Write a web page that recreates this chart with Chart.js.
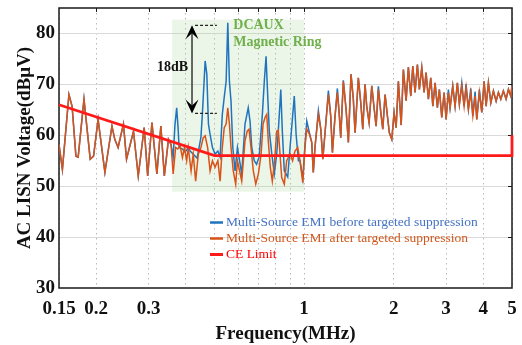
<!DOCTYPE html>
<html>
<head>
<meta charset="utf-8">
<script src="https://cdn.jsdelivr.net/npm/chart.js@4.4.0/dist/chart.umd.min.js"></script>
<style>
  html, body { margin: 0; padding: 0; background: #fff; }
  #emiChart { display: block; }
</style>
</head>
<body>
<canvas id="emiChart" width="522" height="345"></canvas>
<script>
// below the ring region both measurements sit on top of each other
const freqLow = [0.150, 0.154, 0.162, 0.166, 0.171, 0.174, 0.182, 0.191, 0.196, 0.203, 0.214, 0.226, 0.231, 0.237, 0.247, 0.253, 0.267, 0.277, 0.290, 0.298, 0.308, 0.320, 0.330, 0.339, 0.350];
const emiLow = [58.2, 53.3, 68.0, 65.7, 55.9, 55.7, 67.1, 55.3, 55.9, 63.1, 52.7, 61.8, 59.2, 57.6, 62.2, 55.3, 60.8, 52.0, 61.5, 52.0, 62.5, 52.4, 61.8, 52.0, 59.2];

// DCAUX magnetic ring region, before suppression
const freqRingBefore = [0.357, 0.363, 0.368, 0.373, 0.377, 0.380, 0.390, 0.398, 0.408, 0.414, 0.424, 0.437, 0.450, 0.455, 0.465, 0.471, 0.477, 0.483, 0.492, 0.502, 0.513, 0.522, 0.531, 0.539, 0.547, 0.554, 0.561, 0.568, 0.576, 0.586, 0.597, 0.607, 0.617, 0.633, 0.649, 0.658, 0.667, 0.680, 0.692, 0.706, 0.724, 0.735, 0.745, 0.755, 0.764, 0.779, 0.794, 0.809, 0.819, 0.835, 0.845, 0.858, 0.881, 0.897, 0.927, 0.940, 0.957, 0.969, 0.990, 1.008];
const emiRingBefore = [58.2, 55.7, 62.0, 65.4, 61.5, 57.6, 57.3, 56.7, 57.6, 56.9, 56.3, 55.5, 59.6, 64.1, 74.6, 72.0, 62.2, 60.2, 57.6, 56.3, 56.9, 55.7, 64.1, 67.5, 70.6, 82.1, 70.6, 66.7, 57.6, 53.0, 57.6, 55.0, 52.4, 62.2, 65.4, 62.8, 57.6, 55.0, 54.3, 55.7, 64.1, 70.6, 75.5, 67.4, 60.8, 56.3, 52.4, 56.3, 60.8, 69.0, 60.8, 53.0, 51.8, 57.6, 67.7, 60.2, 55.0, 55.0, 51.5, 58.5];

// same region, after suppression
const freqRingAfter = [0.357, 0.363, 0.370, 0.376, 0.383, 0.390, 0.396, 0.403, 0.408, 0.417, 0.424, 0.432, 0.441, 0.450, 0.458, 0.465, 0.474, 0.483, 0.492, 0.502, 0.513, 0.522, 0.531, 0.539, 0.547, 0.554, 0.561, 0.568, 0.578, 0.589, 0.597, 0.607, 0.617, 0.633, 0.644, 0.653, 0.663, 0.675, 0.688, 0.702, 0.717, 0.728, 0.739, 0.749, 0.758, 0.770, 0.782, 0.796, 0.809, 0.819, 0.830, 0.841, 0.858, 0.874, 0.897, 0.915, 0.932, 0.952, 0.969, 0.990, 1.008];
const emiRingAfter = [58.2, 52.4, 57.6, 57.3, 57.9, 55.6, 57.6, 55.0, 57.6, 53.0, 56.3, 51.0, 56.3, 57.6, 59.5, 59.9, 57.6, 53.0, 55.0, 53.7, 55.0, 51.0, 57.6, 61.5, 62.2, 65.4, 62.2, 57.6, 53.0, 50.4, 55.0, 53.0, 51.0, 58.9, 60.8, 61.2, 57.6, 53.0, 50.4, 52.4, 56.3, 62.2, 63.5, 64.1, 58.9, 53.7, 51.0, 55.0, 60.8, 61.0, 56.3, 51.7, 50.4, 55.0, 56.3, 55.0, 56.9, 57.6, 55.0, 50.7, 57.9];

// above 1 MHz
const freqHigh = [1.021, 1.042, 1.061, 1.074, 1.089, 1.117, 1.138, 1.156, 1.176, 1.207, 1.229, 1.245, 1.271, 1.294, 1.314, 1.328, 1.355, 1.384, 1.409, 1.438, 1.464, 1.484, 1.522, 1.551, 1.575, 1.603, 1.624, 1.654, 1.689, 1.719, 1.746, 1.777, 1.811, 1.839, 1.872, 1.906, 1.935, 1.972, 2.007, 2.039, 2.075, 2.12, 2.157, 2.203, 2.242, 2.284, 2.320, 2.361, 2.404, 2.441, 2.487, 2.532, 2.571, 2.618, 2.666, 2.709, 2.757, 2.806, 2.850, 2.903, 2.956, 3.002, 3.056, 3.096, 3.161, 3.218, 3.276, 3.327, 3.390, 3.451, 3.504, 3.568, 3.634, 3.692, 3.758, 3.807, 3.884, 3.957, 4.029, 4.092, 4.165, 4.244, 4.330, 4.421, 4.501, 4.585, 4.678, 4.776, 4.863, 4.953, 5.0];
const emiHighBefore = [62.8, 60.5, 58.6, 52.7, 57.9, 64.8, 61.2, 55.3, 60.5, 68.8, 63.8, 56.6, 63.8, 69.2, 63.8, 59.5, 70.8, 65.1, 58.6, 72.0, 67.1, 60.5, 71.3, 66.4, 61.2, 70.0, 65.7, 62.5, 69.7, 65.4, 61.8, 69.6, 64.5, 61.2, 68.0, 63.8, 60.5, 59.2, 64.5, 61.5, 70.6, 62.0, 72.9, 66.8, 73.4, 67.7, 73.6, 68.4, 73.9, 69.0, 73.3, 68.4, 72.3, 67.1, 71.3, 65.7, 70.3, 65.4, 69.0, 63.5, 68.4, 63.1, 69.0, 65.4, 69.7, 65.7, 70.3, 66.1, 70.3, 65.7, 70.0, 65.1, 69.2, 63.8, 68.6, 63.1, 69.0, 64.5, 70.6, 65.7, 70.3, 66.4, 68.7, 66.7, 68.4, 67.1, 68.7, 67.1, 69.0, 67.7, 69.7];
const emiHighAfter = [61.2, 60.2, 58.6, 52.7, 57.9, 64.1, 61.2, 55.3, 60.5, 68.0, 63.8, 56.6, 63.8, 68.4, 63.8, 59.5, 70.6, 65.1, 58.6, 72.0, 67.1, 60.5, 71.3, 66.4, 61.2, 70.0, 65.7, 62.5, 69.7, 65.4, 61.8, 69.0, 64.5, 61.2, 68.0, 63.8, 60.5, 59.2, 64.5, 61.5, 70.6, 62.0, 72.9, 66.8, 73.4, 67.7, 73.6, 68.4, 73.9, 69.0, 73.3, 68.4, 72.3, 67.1, 71.3, 65.7, 70.3, 65.4, 69.0, 63.5, 68.4, 63.1, 68.4, 65.4, 69.7, 65.7, 70.3, 66.1, 69.7, 65.7, 69.4, 65.1, 68.4, 63.8, 67.7, 63.1, 68.4, 64.5, 70.6, 65.7, 70.3, 66.4, 68.7, 66.7, 68.4, 67.1, 68.7, 67.1, 69.0, 67.7, 69.7];

// CE limit (QP)
const limitFreq = [0.15, 0.5, 5, 5];
const limitLevel = [66, 56, 56, 60];

const xTickValues = [0.15, 0.2, 0.3, 0.4, 0.5, 0.6, 0.7, 0.8, 0.9, 1, 2, 3, 4, 5];
const xTickLabels = [0.15, 0.2, 0.3, 1, 2, 3, 4, 5];
const yTickValues = [30, 40, 50, 60, 70, 80];

const seriesNames = [
  'Multi-Source EMI before targeted suppression',
  'Multi-Source EMI after targeted suppression',
  'CE Limit'
];

// annotation anchors, in axis units
const ringBox = { from: 0.36, to: 1.0, top: 82.7, bottom: 48.9 };
const arrowNote = { x: 0.42, top: 81.6, bottom: 64.3, dashFrom: 0.43, dashTo: 0.509, labelX: 0.361, labelY: 73.3 };
const ringLabel = { x: 0.578, y1: 81.5, y2: 78.3 };

const SERIF = "'Liberation Serif', 'Times New Roman', serif";
const BLUE = '#1f74bd';
const ORANGE = '#d95319';
const RED = '#ff1a1a';

function toPoints(xs, ys) {
  return xs.map((x, i) => ({ x: x, y: ys[i] }));
}

const beforePts = toPoints([...freqLow, ...freqRingBefore, ...freqHigh], [...emiLow, ...emiRingBefore, ...emiHighBefore]);
const afterPts = toPoints([...freqLow, ...freqRingAfter, ...freqHigh], [...emiLow, ...emiRingAfter, ...emiHighAfter]);
const limitPts = toPoints(limitFreq, limitLevel);

// shaded ring region and plot frame, under the traces
const ringShade = {
  id: 'ringShade',
  beforeDatasetsDraw(chart) {
    const { ctx, chartArea: a, scales: { x, y } } = chart;
    const l = x.getPixelForValue(ringBox.from), r = x.getPixelForValue(ringBox.to);
    const t = y.getPixelForValue(ringBox.top), b = y.getPixelForValue(ringBox.bottom);
    ctx.save();
    ctx.fillStyle = 'rgba(170, 212, 150, 0.22)';
    ctx.fillRect(l, t, r - l, b - t);

    ctx.strokeStyle = '#1a1a1a';
    ctx.lineWidth = 1.5;
    ctx.strokeRect(a.left, a.top, a.right - a.left, a.bottom - a.top);
    ctx.lineWidth = 1;
    ctx.beginPath();
    xTickValues.slice(1, -1).forEach(v => {
      const px = Math.round(x.getPixelForValue(v)) + 0.5;
      ctx.moveTo(px, a.top); ctx.lineTo(px, a.top + 4);
    });
    yTickValues.slice(1).forEach(v => {
      const py = Math.round(y.getPixelForValue(v)) + 0.5;
      ctx.moveTo(a.right, py); ctx.lineTo(a.right - 4, py);
    });
    ctx.stroke();
    ctx.restore();
  }
};

function arrowHead(ctx, x, tipY, dir) {
  // dir = 1 points up, -1 points down
  const len = 14, half = 6.5, notch = 8;
  ctx.beginPath();
  ctx.moveTo(x, tipY);
  ctx.lineTo(x - half, tipY + dir * len);
  ctx.lineTo(x, tipY + dir * notch);
  ctx.lineTo(x + half, tipY + dir * len);
  ctx.closePath();
  ctx.fill();
}

const overlay = {
  id: 'overlay',
  afterDraw(chart) {
    const { ctx, chartArea: a, scales: { x, y } } = chart;
    ctx.save();

    // 18dB arrow
    const ax = x.getPixelForValue(arrowNote.x);
    const aTop = y.getPixelForValue(arrowNote.top);
    const aBot = y.getPixelForValue(arrowNote.bottom);
    ctx.strokeStyle = '#444';
    ctx.lineWidth = 1.6;
    ctx.beginPath();
    ctx.moveTo(ax, aTop + 8); ctx.lineTo(ax, aBot - 8);
    ctx.stroke();
    ctx.fillStyle = '#000';
    arrowHead(ctx, ax, aTop, 1);
    arrowHead(ctx, ax, aBot, -1);

    ctx.strokeStyle = '#222';
    ctx.lineWidth = 1.2;
    ctx.setLineDash([3, 2]);
    ctx.beginPath();
    const d0 = x.getPixelForValue(arrowNote.dashFrom), d1 = x.getPixelForValue(arrowNote.dashTo);
    ctx.moveTo(d0, aTop); ctx.lineTo(d1, aTop);
    ctx.moveTo(d0, aBot); ctx.lineTo(d1, aBot);
    ctx.stroke();
    ctx.setLineDash([]);

    ctx.font = 'bold 14px ' + SERIF;
    ctx.textBaseline = 'middle';
    ctx.textAlign = 'center';
    ctx.fillStyle = '#111';
    ctx.fillText('18dB', x.getPixelForValue(arrowNote.labelX), y.getPixelForValue(arrowNote.labelY));

    ctx.textAlign = 'left';
    ctx.fillStyle = '#6fb04c';
    const rx = x.getPixelForValue(ringLabel.x);
    ctx.fillText('DCAUX', rx, y.getPixelForValue(ringLabel.y1));
    ctx.fillText('Magnetic Ring', rx, y.getPixelForValue(ringLabel.y2));

    // legend inside the plot
    const legendColors = [BLUE, ORANGE, RED];
    const legendText = ['#4472c4', '#d0581c', '#ff0000'];
    const lx = a.left + 151, ly = a.top + 214.5;
    ctx.font = '13.5px ' + SERIF;
    seriesNames.forEach((name, i) => {
      const yy = ly + i * 16;
      ctx.strokeStyle = legendColors[i];
      ctx.lineWidth = i === 2 ? 3 : 2.5;
      ctx.beginPath();
      ctx.moveTo(lx, yy); ctx.lineTo(lx + 13, yy);
      ctx.stroke();
      ctx.fillStyle = legendText[i];
      ctx.fillText(name, lx + 16, yy);
    });

    ctx.restore();
  }
};

new Chart(document.getElementById('emiChart'), {
  type: 'line',
  data: {
    datasets: [
      { label: seriesNames[0], data: beforePts, borderColor: BLUE, borderWidth: 1.5, pointRadius: 0, tension: 0, order: 3 },
      { label: seriesNames[1], data: afterPts, borderColor: ORANGE, borderWidth: 1.5, pointRadius: 0, tension: 0, order: 2 },
      { label: seriesNames[2], data: limitPts, borderColor: RED, borderWidth: 2.8, pointRadius: 0, tension: 0, order: 1, clip: 4 }
    ]
  },
  options: {
    responsive: false,
    animation: false,
    devicePixelRatio: 1,
    layout: { padding: { left: 0, right: 10, top: 8, bottom: 0 } },
    plugins: { legend: { display: false }, tooltip: { enabled: false } },
    scales: {
      x: {
        type: 'logarithmic',
        min: 0.15,
        max: 5,
        afterBuildTicks: s => { s.ticks = xTickValues.map(v => ({ value: v })); },
        afterFit: s => { s.height = 57; s.paddingLeft = 0; s.paddingRight = 0; },
        ticks: {
          autoSkip: false,
          maxRotation: 0,
          padding: 10,
          color: '#111',
          font: { family: SERIF, size: 19, weight: 'bold' },
          callback: v => (xTickLabels.includes(v) ? String(v) : '')
        },
        grid: { color: '#b8b8b8', lineWidth: 1, drawTicks: false },
        border: { display: false, dash: [1.5, 3.5] },
        title: {
          display: true,
          text: 'Frequency(MHz)',
          color: '#111',
          padding: { top: 0, bottom: 0 },
          font: { family: SERIF, size: 19, weight: 'bold' }
        }
      },
      y: {
        min: 30,
        max: 85,
        afterBuildTicks: s => { s.ticks = yTickValues.map(v => ({ value: v })); },
        afterFit: s => { s.width = 59; s.paddingTop = 0; s.paddingBottom = 0; },
        ticks: {
          padding: 4,
          color: '#111',
          font: { family: SERIF, size: 19, weight: 'bold' }
        },
        grid: { color: ctx => (ctx.tick && ctx.tick.value === 30 ? 'rgba(0,0,0,0)' : '#d9d9d9'), lineWidth: 1, drawTicks: false },
        border: { display: false },
        title: {
          display: true,
          text: 'AC LISN Voltage(dBμV)',
          color: '#111',
          padding: { top: 14, bottom: 0 },
          font: { family: SERIF, size: 19, weight: 'bold' }
        }
      }
    }
  },
  plugins: [ringShade, overlay]
});
</script>
</body>
</html>
